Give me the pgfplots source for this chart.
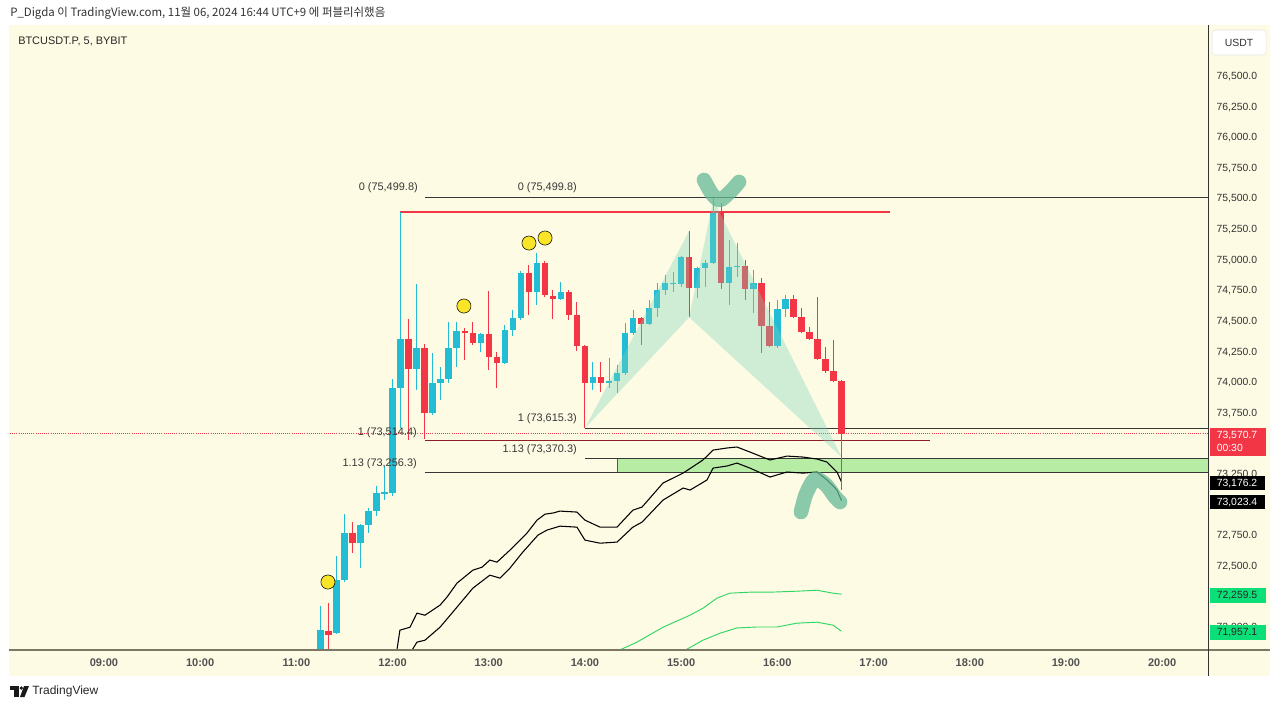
\documentclass[border=0pt]{standalone}
\usepackage{fontspec}
\setmainfont{Liberation Sans}
\newfontfamily\krfont{Noto Sans CJK KR}
\usepackage{pgfplots}
\usepackage{pgfplotstable}
\pgfplotsset{compat=1.18}

\definecolor{cream}{RGB}{254,251,228}
\definecolor{tvup}{RGB}{34,188,212}
\definecolor{tvdn}{RGB}{242,54,69}
\definecolor{fibgray}{RGB}{55,55,55}
\definecolor{darkred}{RGB}{140,30,38}
\definecolor{zonefill}{RGB}{183,236,165}
\definecolor{zoneedge}{RGB}{50,110,85}
\definecolor{bandgreen}{RGB}{45,215,100}
\definecolor{taggreen}{RGB}{12,222,120}
\definecolor{patfill}{RGB}{120,210,185}
\definecolor{dotyellow}{RGB}{250,228,40}
\definecolor{penteal}{RGB}{100,185,150}
\definecolor{axisline}{RGB}{125,120,100}
\definecolor{labelgray}{RGB}{50,50,50}

% 5-minute candles, t in minutes after midnight
\pgfplotstableread{
t o h l c
675 71650 72160 71600 71966
685 71941 72570 71933 72374
690 72374 72914 72358 72758
700 72677 72830 72472 72824
705 72824 72963 72758 72938
710 72938 73142 72897 73085
715 73077 73306 73028 73093
720 73085 74016 73060 73943
725 73943 75381 73616 74343
735 74098 74793 73926 74270
745 73739 74229 73722 73984
750 73984 74114 73845 74016
755 74016 74482 73984 74270
760 74270 74482 74114 74409
775 74310 74390 74237 74384
790 74147 74458 74140 74417
795 74417 74580 74368 74515
800 74515 74899 74498 74882
810 74727 75046 74621 74964
825 74670 74809 74665 74727
845 73984 74155 73926 74033
855 73984 74188 73943 74000
860 74000 74131 73902 74065
865 74065 74474 74049 74392
870 74392 74580 74376 74515
880 74466 74662 74458 74596
885 74596 74801 74523 74743
890 74743 74866 74703 74801
895 74791 74891 74727 74803
900 74793 75020 74768 75013
910 74760 74931 74678 74923
915 74923 74989 74768 74964
920 74964 75490 74955 75373
930 74801 75152 74621 74931
935 74930 75127 74850 74942
945 74752 74907 74556 74801
960 74286 74662 74270 74588
965 74588 74703 74523 74670
}\upc

\pgfplotstableread{
t o h l c
680 71960 72190 71780 71930
695 72758 72848 72595 72677
730 74343 74507 73518 74098
740 74270 74300 73530 73739
765 74409 74433 74171 74392
770 74392 74482 74294 74310
780 74384 74735 74090 74196
785 74196 74237 73943 74147
805 74882 74948 74539 74727
815 74964 74980 74686 74703
820 74695 74744 74507 74670
830 74727 74744 74498 74539
835 74539 74645 74245 74286
840 74286 74295 73616 73984
850 74033 74155 73910 73984
875 74515 74523 74294 74466
905 75013 75225 74523 74760
925 75373 75454 74752 74801
940 74940 74989 74662 74752
950 74801 74841 74229 74449
955 74449 74645 74278 74286
970 74670 74703 74515 74523
975 74523 74597 74392 74400
980 74400 74441 74335 74343
985 74343 74686 74175 74180
990 74180 74278 74065 74082
995 74082 74335 73992 74000
1000 74000 74005 73110 73570.7
}\dnc

\begin{document}
\begin{tikzpicture}
\fill[white] (0,0) rectangle (960pt,-531.75pt);
\begin{scope}[x=0.75pt,y=-0.75pt]
\fill[cream] (9,25) rectangle (1270,676);
\end{scope}

\begin{axis}[at={(7.5pt,-487.5pt)}, anchor=south west,
  width=898.5pt, height=468.75pt, scale only axis,
  xmin=481.4, xmax=1228.6, ymin=71804, ymax=76906,
  axis line style={draw=none}, major tick length=0pt,
  xtick={540,600,...,1200},
  xticklabels={09:00,10:00,11:00,12:00,13:00,14:00,15:00,16:00,17:00,18:00,19:00,20:00},
  xtick pos=bottom, ytick pos=right, yticklabel pos=right,
  ytick={72000,72500,72750,73250,73750,74000,74250,74500,74750,75000,75250,75500,75750,76000,76250,76500},
  scaled y ticks=false,
  xticklabel style={font=\fontsize{8.3}{10}\selectfont\bfseries, text=labelgray!85, anchor=center, yshift=-9.75pt},
  yticklabel style={font=\fontsize{7.8}{10}\selectfont, text=labelgray, anchor=west, inner sep=0pt, xshift=6.3pt, yshift=-1.3pt},
  /pgf/number format/.cd, fixed, fixed zerofill, precision=1, 1000 sep={,}, assume math mode=true]

% support / resistance zone and fib levels
\fill[zonefill] (axis cs:860,73256.3) rectangle (axis cs:1228.6,73370.3);
\draw[zoneedge, line width=0.75pt] (axis cs:1228.6,73370.3) -- (axis cs:860,73370.3) -- (axis cs:860,73256.3) -- (axis cs:1228.6,73256.3);
\draw[fibgray, line width=0.75pt] (axis cs:740.2,75499.8) -- (axis cs:1228.6,75499.8);
\draw[fibgray, line width=0.75pt] (axis cs:840,73615.3) -- (axis cs:1228.6,73615.3);
\draw[fibgray, line width=0.75pt] (axis cs:840,73370.3) -- (axis cs:1228.6,73370.3);
\draw[fibgray, line width=0.75pt] (axis cs:740.2,73256.3) -- (axis cs:1228.6,73256.3);
\draw[tvdn, line width=1.1pt] (axis cs:724.6,75381) -- (axis cs:1030.2,75381);
\draw[darkred, line width=1.1pt] (axis cs:740.2,73514.4) -- (axis cs:1055.2,73514.4);
\draw[tvdn, line width=0.6pt, densely dotted] (axis cs:481.4,73570.7) -- (axis cs:1228.6,73570.7);

% envelope bands
\addplot[black, line width=0.8pt] coordinates {
(720,71700) (722.7,71802) (724.6,71966) (730.9,71990) (735.2,72105) (740.2,72088)
(749.6,72170) (753.9,72235) (760.2,72350) (770.1,72456) (775.8,72480) (780.7,72538)
(785.1,72521) (793.2,72619) (803.8,72758) (810.1,72864) (815.1,72913) (820.0,72922)
(824.4,72938) (835.0,72930) (840.0,72864) (849.4,72807) (860.0,72807) (869.9,72946)
(875.6,72971) (888.7,73167) (901.2,73248) (913.6,73355) (919.9,73436) (928.6,73453)
(934.8,73461) (942.9,73420) (955.4,73355) (966.0,73387) (976.0,73379) (984.7,73363)
(991.0,73338) (997.2,73257) (1000,73176.2)};
\addplot[black, line width=0.8pt] coordinates {
(730.9,71750) (732.1,71802) (735.2,71868) (740.2,71884) (749.6,71990) (760.2,72154)
(770.1,72309) (780.7,72415) (787.0,72391) (793.2,72472) (800.7,72595) (810.7,72742)
(816.3,72783) (824.4,72815) (835.0,72807) (840.0,72701) (849.4,72676) (860.0,72685)
(869.9,72807) (875.6,72848) (888.7,73028) (901.2,73126) (905.6,73110) (916.1,73192)
(919.9,73289) (928.6,73306) (934.8,73330) (942.9,73289) (955.4,73216) (966.0,73257)
(976.0,73248) (984.7,73257) (991.0,73192) (997.2,73110) (1000,73023.4)};
\addplot[bandgreen, line width=0.7pt] coordinates {
(826,71770) (833,71808) (843,71808) (850,71780) (857,71780) (862,71806) (872.4,71868)
(888.7,71990) (905.5,72088) (913.6,72145) (922.3,72227) (930.4,72268) (942.9,72276)
(955.4,72276) (972.2,72284) (984.7,72292) (994.7,72268) (1000,72259.5)};
\addplot[bandgreen, line width=0.7pt] coordinates {
(898,71700) (902.4,71802) (913.6,71884) (924.2,71941) (934.8,71984) (947.3,71992)
(959.8,71992) (972.2,72023) (984.7,72031) (994.7,72007) (1000,71957.1)};

% candles: wicks then bodies
\addplot[draw=none, no markers, error bars/.cd, y dir=minus, y explicit, error mark=none,
  error bar style={draw=tvup, line width=0.75pt}]
  table[x=t, y=h, y error expr=\thisrow{h}-\thisrow{l}] {\upc};
\addplot[draw=none, no markers, error bars/.cd, y dir=minus, y explicit, error mark=none,
  error bar style={draw=tvdn, line width=0.75pt}]
  table[x=t, y=h, y error expr=\thisrow{h}-\thisrow{l}] {\dnc};
\addplot[draw=none, no markers, error bars/.cd, y dir=minus, y explicit, error mark=none,
  error bar style={draw=tvup, line width=4.8pt}]
  table[x=t, y=c, y error expr=\thisrow{c}-\thisrow{o}] {\upc};
\addplot[draw=none, no markers, error bars/.cd, y dir=minus, y explicit, error mark=none,
  error bar style={draw=tvdn, line width=4.8pt}]
  table[x=t, y=o, y error expr=\thisrow{o}-\thisrow{c}] {\dnc};

% harmonic pattern X-A-B and B-C-D
\fill[patfill, fill opacity=0.35] (axis cs:840,73616) -- (axis cs:905,75224) -- (axis cs:905,74520) -- cycle;
\fill[patfill, fill opacity=0.35] (axis cs:905,74520) -- (axis cs:920,75480) -- (axis cs:1000,73380) -- cycle;

% signal dots
\addplot[only marks, mark=*, mark size=5.3pt, mark options={fill=dotyellow, draw=none}] coordinates {
(679.7,72359) (764.5,74612) (805.1,75126) (815.1,75167)};
\end{axis}

\begin{scope}[x=0.75pt,y=-0.75pt]
% axis lines
\draw[axisline, line width=1.1pt] (9,650) -- (1270,650);
\draw[black!80, line width=0.75pt] (1208,25) -- (1208,676);

% fib labels
\begin{scope}[every node/.style={anchor=east, inner sep=0pt, text=fibgray, font=\fontsize{8.2}{10}\selectfont}]
\node at (418,187.5) {0 (75,499.8)};
\node at (577,187.5) {0 (75,499.8)};
\node at (577,418.5) {1 (73,615.3)};
\node at (417,432.5) {1 (73,514.4)};
\node at (577,449.5) {1.13 (73,370.3)};
\node at (417,463.5) {1.13 (73,256.3)};
\end{scope}

% hand-drawn marks
\draw[penteal, draw opacity=0.75, line width=11pt, line cap=round, line join=round]
  plot[smooth] coordinates {(704,180) (712,194) (720,200) (730,192) (739,182)};
\draw[penteal, draw opacity=0.75, line width=11pt, line cap=round, line join=round]
  plot[smooth] coordinates {(801,512) (806,494) (815,479) (826,485) (835,497) (840,502)};

% price tags
\fill[tvdn] (1210,428) rectangle (1266,456);
\node[anchor=west, inner sep=0pt, text=white, font=\fontsize{7.8}{10}\selectfont] at (1216.5,435.5) {73,570.7};
\node[anchor=west, inner sep=0pt, text=white, font=\fontsize{7.8}{10}\selectfont] at (1216.5,447.5) {00:30};
\fill[black] (1210,476) rectangle (1265,490);
\node[anchor=west, inner sep=0pt, text=white, font=\fontsize{7.8}{10}\selectfont] at (1216.5,483.5) {73,176.2};
\fill[black] (1210,494.5) rectangle (1265,509);
\node[anchor=west, inner sep=0pt, text=white, font=\fontsize{7.8}{10}\selectfont] at (1216.5,502.5) {73,023.4};
\fill[taggreen] (1210,588) rectangle (1266,603);
\node[anchor=west, inner sep=0pt, text=black!85, font=\fontsize{7.8}{10}\selectfont] at (1216.5,596) {72,259.5};
\fill[taggreen] (1210,625) rectangle (1266,640);
\node[anchor=west, inner sep=0pt, text=black!85, font=\fontsize{7.8}{10}\selectfont] at (1216.5,633) {71,957.1};

% currency box
\draw[fill=white, draw=black!10, rounded corners=2.5pt] (1212,30) rectangle (1266,55);
\node[text=labelgray, font=\fontsize{7.8}{10}\selectfont] at (1239,42.5) {USDT};

% titles
\node[anchor=west, inner sep=0pt, text=black!85, font=\fontsize{8.2}{10}\selectfont] at (18,41) {BTCUSDT.P, 5, BYBIT};
\node[anchor=west, inner sep=0pt, text=black!80] at (10,13) {\krfont\fontsize{8.6}{10}\selectfont P\_Digda 이 TradingView.com, 11월 06, 2024 16:44 UTC+9 에 퍼블리쉬했음};

% footer logo
\fill[black!90] (10,686) rectangle (19,690);
\fill[black!90] (14,686) rectangle (18.5,697);
\fill[black!90] (21.3,688) circle (1.8);
\fill[black!90] (24,686) -- (29,686) -- (24.5,697) -- (20,697) -- cycle;
\node[anchor=west, inner sep=0pt, text=black!85, font=\fontsize{9}{11}\selectfont] at (32,691) {TradingView};
\end{scope}
\end{tikzpicture}
\end{document}
